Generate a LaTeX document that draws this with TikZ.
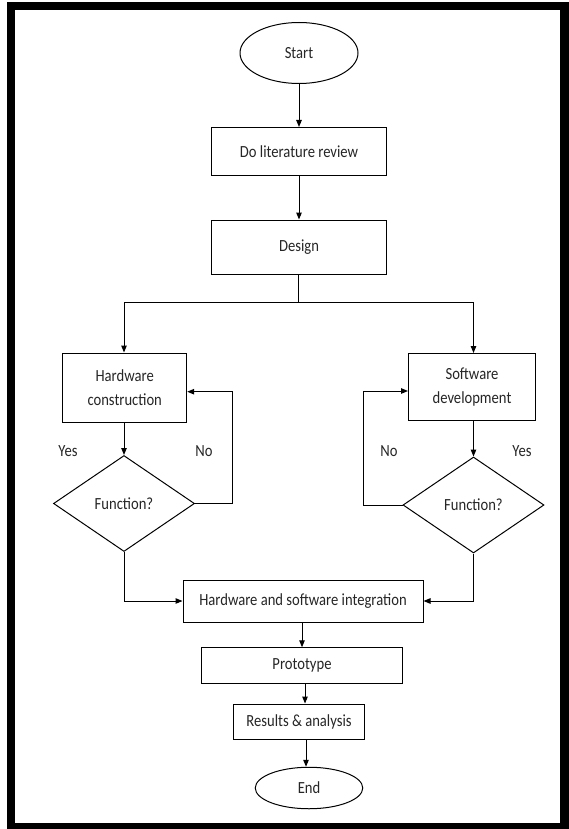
\documentclass[tikz,border=0pt]{standalone}
\usepackage{fontspec}
\setmainfont{Carlito}[FakeStretch=0.86]
\usetikzlibrary{shapes.geometric,arrows.meta}
\begin{document}
\begin{tikzpicture}[x=1pt,y=-1pt,
  every node/.style={font=\fontsize{17}{24}\selectfont, text=black!85},
  boxnode/.style={draw, line width=1pt, rectangle, inner sep=0pt, align=center},
  ovalnode/.style={draw, line width=1pt, ellipse, inner sep=0pt},
  decnode/.style={draw, line width=1pt, diamond, inner sep=0pt},
  arr/.style={line width=1pt, -{Triangle[length=7pt,width=5.5pt]}},
  ln/.style={line width=1pt},
  lbl/.style={inner sep=0pt}]
\useasboundingbox (0,0) rectangle (569,829);
% frame
\fill[black] (7,2) rectangle (569,829);
\fill[white] (15,10) rectangle (560,823);

% nodes
\node[ovalnode, minimum width=118pt, minimum height=61pt] (start) at (299,53) {Start};
\node[boxnode, minimum width=175pt, minimum height=48pt] (lit) at (299,151.5) {Do literature review};
\node[boxnode, minimum width=175pt, minimum height=54pt] (design) at (299,247) {Design};
\node[boxnode, minimum width=124pt, minimum height=69pt] (hw) at (124.7,387.5) {Hardware\\construction};
\node[boxnode, minimum width=127pt, minimum height=67pt] (sw) at (472,387) {Software\\development};
\node[decnode, minimum width=141pt, minimum height=96pt] (dhw) at (124,503.5) {Function?};
\node[decnode, minimum width=141pt, minimum height=96pt] (dsw) at (473.5,505) {Function?};
\node[boxnode, minimum width=240pt, minimum height=42pt] (integ) at (303,601) {Hardware and software integration};
\node[boxnode, minimum width=200.5pt, minimum height=35.5pt] (proto) at (302,665.5) {Prototype};
\node[boxnode, minimum width=131.5pt, minimum height=35pt] (res) at (299,721.5) {Results \& analysis};
\node[ovalnode, minimum width=107.5pt, minimum height=41.5pt] (finish) at (309,788) {End};

% labels
\node[lbl] (yesl) at (68,451) {Yes};
\node[lbl] (nol) at (204,451) {No};
\node[lbl] (nor) at (389,451) {No};
\node[lbl] (yesr) at (522,451) {Yes};

% helper coordinates
\coordinate (split) at (298.7,302);
\coordinate (hwloop) at (232.7,391.7);
\coordinate (swloop) at (363.3,391);
\coordinate (ax) at (305,0);
\coordinate (bx) at (306,0);
\coordinate (hx) at (124,0);
\coordinate (sx) at (473.5,0);

% connectors
\draw[arr] (start) -- (lit);
\draw[arr] (lit) -- (design);
\draw[ln] (design.south -| split) -- (split);
\draw[arr] (split) -| (hw.north -| hx);
\draw[arr] (split) -| (sw.north -| sx);
\draw[arr] (hw.south -| hx) -- (dhw.north);
\draw[arr] (sw.south -| sx) -- (dsw.north);
\draw[arr] (dhw.east) -| (hwloop) -- (hwloop -| hw.east);
\draw[arr] (dsw.west) -| (swloop) -- (swloop -| sw.west);
\draw[arr] (dhw.south) |- (integ.west);
\draw[arr] (dsw.south) |- (integ.east);
\draw[arr] (integ.south -| proto.north) -- (proto.north);
\draw[arr] (proto.south -| ax) -- (res.north -| ax);
\draw[arr] (res.south -| bx) -- (finish.north -| bx);
\end{tikzpicture}
\end{document}
